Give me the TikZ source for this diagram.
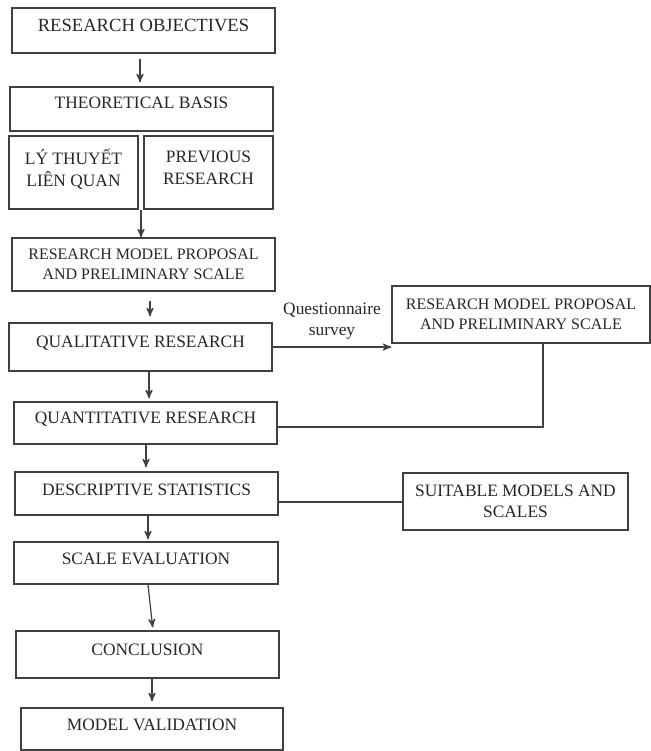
\documentclass[tikz,border=0pt]{standalone}
\usepackage{fontspec}
\setmainfont{Liberation Serif}
\usetikzlibrary{positioning, calc, arrows}
\tikzset{
  stage/.style={draw=black!75, line width=0.6pt, fill=none, shape=rectangle, inner sep=0pt,
    align=center, text=black!85, font=\fontsize{8.7}{10.8}\selectfont},
  lift/.style={text depth=#1},
}

\begin{document}
\begin{tikzpicture}[x=0.5pt, y=-0.5pt, ->, >=stealth', semithick, color=black!75]
  \useasboundingbox (0,0) rectangle (651,751);
  % main column
  \node[stage, minimum width=131.5pt, minimum height=22.5pt, lift=5.5pt, font=\fontsize{9.3}{11}\selectfont] (obj) at (143.5,30.5) {RESEARCH OBJECTIVES};
  \node[stage, minimum width=131.5pt, minimum height=22pt, lift=6pt] (basis) at (141.5,109) {THEORETICAL BASIS};
  \node[stage, minimum width=64.5pt, minimum height=36.5pt, lift=5pt] (theory) at (73.5,172.5) {LÝ THUYẾT\\LIÊN QUAN};
  \node[stage, minimum width=64.5pt, minimum height=36.5pt, lift=5pt] (prev) at (208.5,172.5) {PREVIOUS\\RESEARCH};
  \node[stage, minimum width=131.5pt, minimum height=26.5pt, font=\fontsize{8}{10}\selectfont] (model) at (143.5,264.5) {RESEARCH MODEL PROPOSAL\\AND PRELIMINARY SCALE};
  \node[stage, minimum width=131.5pt, minimum height=24pt, lift=5pt] (qual) at (140.5,347) {QUALITATIVE RESEARCH};
  \node[stage, minimum width=131.5pt, minimum height=21pt, lift=5pt] (quant) at (145.5,423) {QUANTITATIVE RESEARCH};
  \node[stage, minimum width=131.5pt, minimum height=21.5pt, lift=3.5pt] (desc) at (146.5,493.5) {DESCRIPTIVE STATISTICS};
  \node[stage, minimum width=132pt, minimum height=21pt, lift=4pt] (evaluation) at (146,563) {SCALE EVALUATION};
  \node[stage, minimum width=131.5pt, minimum height=23.5pt, lift=4.5pt] (concl) at (147.5,654.5) {CONCLUSION};
  \node[stage, minimum width=131pt, minimum height=21pt, lift=4pt] (valid) at (152,729) {MODEL VALIDATION};
  % side boxes
  \node[stage, minimum width=129pt, minimum height=28.5pt, font=\fontsize{8}{10}\selectfont] (proposal) at (521,314.5) {RESEARCH MODEL PROPOSAL\\AND PRELIMINARY SCALE};
  \node[stage, minimum width=112.5pt, minimum height=28.5pt] (suit) at (515.5,501.5) {SUITABLE MODELS AND\\SCALES};

  \coordinate (split) at ($(theory.south east)!.5!(prev.south west)$);
  \path
    ([xshift=-1.75pt]obj.south) edge[shorten <=2.5pt, shorten >=2pt] ([xshift=-0.75pt]basis.north)
    (split) edge (split |- model.north)
    ([xshift=3.25pt]model.south) edge[shorten <=4.5pt, shorten >=3pt] ([xshift=4.75pt]qual.north)
    ([xshift=4.25pt]qual.south) edge[shorten >=1.5pt] ([xshift=1.75pt]quant.north)
    ([xshift=0.25pt]quant.south) edge[shorten >=2pt] ([xshift=-0.25pt]desc.north)
    ([xshift=0.75pt]desc.south) edge[shorten >=1pt] ([xshift=1pt]evaluation.north)
    ([xshift=1pt]evaluation.south) edge[shorten >=1.5pt] ([xshift=2.75pt]concl.north)
    ([xshift=2.25pt]concl.south) edge[shorten >=3pt] (valid.north)
    (qual.east) edge node[above=0pt, align=center, text=black!85, font=\fontsize{8.7}{10.8}\selectfont] {Questionnaire\\survey} (qual.east -| proposal.west)
    ([yshift=-0.25pt]suit.west) edge[-] ([yshift=-0.25pt]suit.west -| desc.east);
  \draw[-] ([xshift=11pt]proposal.south) |- ([yshift=-2pt]quant.east);
\end{tikzpicture}
\end{document}
